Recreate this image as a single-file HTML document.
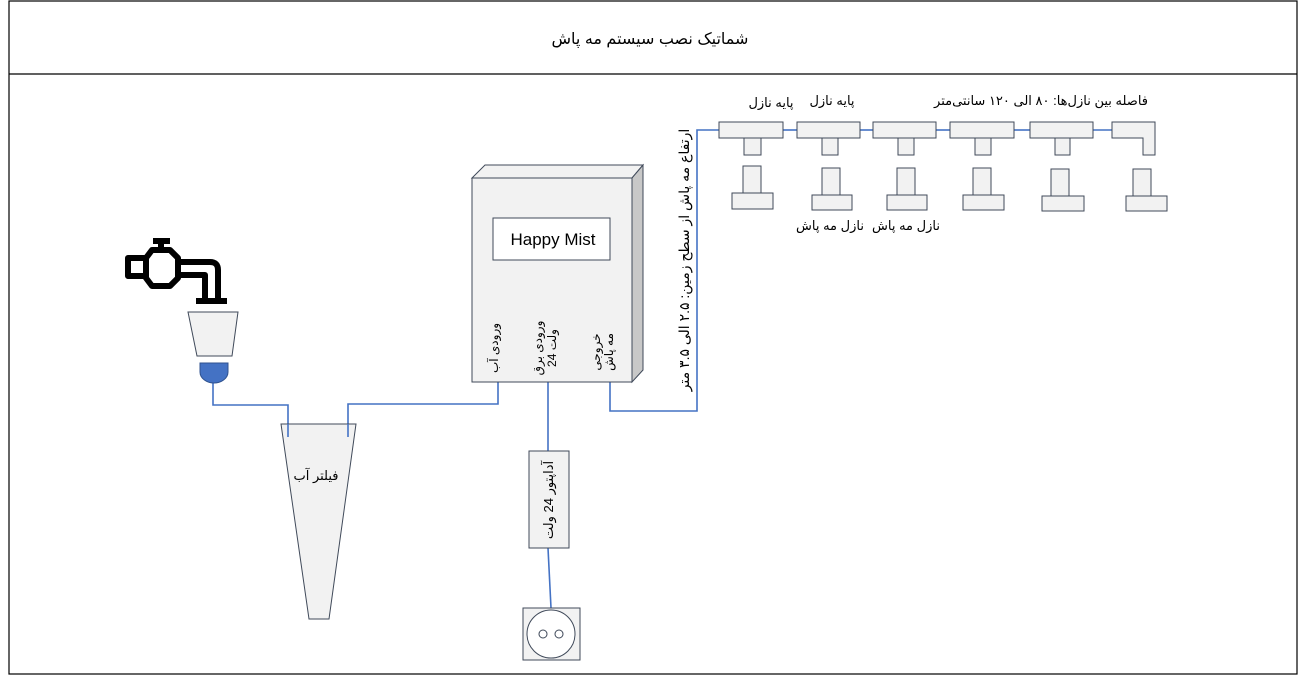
<!DOCTYPE html>
<html><head><meta charset="utf-8"><style>
html,body{margin:0;padding:0;background:#fff;width:1302px;height:677px;overflow:hidden}
text{font-family:"Liberation Sans","DejaVu Sans",sans-serif;fill:#000}
</style></head><body>
<svg width="1302" height="677" viewBox="0 0 1302 677" xmlns="http://www.w3.org/2000/svg">
<g stroke="#000" stroke-width="1.2" fill="none">
<rect x="9" y="1" width="1288" height="673"/>
<line x1="9" y1="74" x2="1297" y2="74"/>
</g>
<text x="650" y="44" font-size="16" text-anchor="middle" direction="rtl">شماتیک نصب سیستم مه پاش</text>

<g stroke="#4472c4" stroke-width="1.6" fill="none">
<polyline points="213,383 213,405 288,405 288,437"/>
<polyline points="498,382 498,404 348,404 348,437"/>
<polyline points="548,382 548,451"/>
<polyline points="548,548 551,608"/>
<polyline points="610,382 610,411 697,411 697,130 719,130"/>
<line x1="783" y1="130" x2="797" y2="130"/>
<line x1="860" y1="130" x2="873" y2="130"/>
<line x1="936" y1="130" x2="950" y2="130"/>
<line x1="1014" y1="130" x2="1030" y2="130"/>
<line x1="1093" y1="130" x2="1112" y2="130"/>
</g>

<g stroke="#404a5a" stroke-width="1" >
<polygon points="472,178 485,165 643,165 632,178" fill="#f2f2f2"/>
<polygon points="632,178 643,165 643,370 632,382" fill="#c8c8c8"/>
<rect x="472" y="178" width="160" height="204" fill="#f2f2f2"/>
<rect x="493" y="218" width="117" height="42" fill="#fff"/>
</g>
<text x="553" y="245" font-size="17" text-anchor="middle">Happy Mist</text>
<g font-size="12">
<text transform="translate(498,348) rotate(-90)" text-anchor="middle" direction="rtl">ورودی آب</text>
<text transform="translate(542,348) rotate(-90)" text-anchor="middle" direction="rtl">ورودی برق</text>
<text transform="translate(556,348) rotate(-90)" text-anchor="middle">24 ولت</text>
<text transform="translate(600,352) rotate(-90)" text-anchor="middle" direction="rtl">خروجی</text>
<text transform="translate(613,352) rotate(-90)" text-anchor="middle" direction="rtl">مه پاش</text>
</g>
<text transform="translate(689,260) rotate(-90)" font-size="14" text-anchor="middle" direction="rtl">ارتفاع مه پاش از سطح زمین: ۲.۵ الی ۳.۵ متر</text>

<polygon points="281,424 356,424 329,619 309,619" fill="#f2f2f2" stroke="#404a5a" stroke-width="1"/>
<g stroke="#4472c4" stroke-width="1.6"><line x1="288" y1="424" x2="288" y2="437"/><line x1="348" y1="424" x2="348" y2="437"/></g>
<text x="316" y="480" font-size="13" text-anchor="middle" direction="rtl">فیلتر آب</text>

<rect x="529" y="451" width="40" height="97" fill="#f2f2f2" stroke="#404a5a"/>
<text transform="translate(553,500) rotate(-90)" font-size="13" text-anchor="middle" direction="rtl">آداپتور 24 ولت</text>
<rect x="523" y="608" width="57" height="52" fill="#f2f2f2" stroke="#404a5a"/>
<circle cx="551" cy="634" r="24" fill="#fff" stroke="#404a5a"/>
<circle cx="543" cy="634" r="4" fill="#fff" stroke="#404a5a"/>
<circle cx="559" cy="634" r="4" fill="#fff" stroke="#404a5a"/>

<g stroke="#000" stroke-width="6" fill="none" stroke-linejoin="round">
<rect x="128" y="258" width="18" height="18"/>
<polygon points="152,250 170,250 178,258 178,278 170,286 152,286 146,278 146,258"/>
<line x1="161" y1="250" x2="161" y2="241"/>
<line x1="153" y1="241" x2="170" y2="241"/>
<path d="M178,262 H210 Q218,262 218,270 V301 M178,275 H205 V301"/>
<line x1="196" y1="301" x2="227" y2="301"/>
</g>
<polygon points="188,312 238,312 232,356 197,356" fill="#f2f2f2" stroke="#404a5a"/>
<path d="M200,363 H228 V372 A14,11 0 0 1 200,372 Z" fill="#4472c4" stroke="#2f528f"/>

<g fill="#f2f2f2" stroke="#404a5a" stroke-width="1">
<rect x="719" y="122" width="64" height="16"/><rect x="744" y="138" width="17" height="17"/>
<rect x="797" y="122" width="63" height="16"/><rect x="822" y="138" width="16" height="17"/>
<rect x="873" y="122" width="63" height="16"/><rect x="898" y="138" width="16" height="17"/>
<rect x="950" y="122" width="64" height="16"/><rect x="975" y="138" width="16" height="17"/>
<rect x="1030" y="122" width="63" height="16"/><rect x="1055" y="138" width="15" height="17"/>
<polygon points="1112,122 1155,122 1155,155 1143,155 1143,138 1112,138"/>
<rect x="743" y="166" width="18" height="27"/><rect x="732" y="193" width="41" height="16"/>
<rect x="822" y="168" width="18" height="27"/><rect x="812" y="195" width="40" height="15"/>
<rect x="897" y="168" width="18" height="27"/><rect x="887" y="195" width="40" height="15"/>
<rect x="973" y="168" width="18" height="27"/><rect x="963" y="195" width="41" height="15"/>
<rect x="1051" y="169" width="18" height="27"/><rect x="1042" y="196" width="42" height="15"/>
<rect x="1133" y="169" width="18" height="27"/><rect x="1126" y="196" width="41" height="15"/>
</g>
<g font-size="13">
<text x="771" y="107" text-anchor="middle" direction="rtl">پایه نازل</text>
<text x="832" y="105" text-anchor="middle" direction="rtl">پایه نازل</text>
<text x="1148" y="105" text-anchor="start" direction="rtl">فاصله بین نازل‌ها: ۸۰ الی ۱۲۰ سانتی‌متر</text>
<text x="830" y="230" text-anchor="middle" direction="rtl">نازل مه پاش</text>
<text x="906" y="230" text-anchor="middle" direction="rtl">نازل مه پاش</text>
</g>
</svg>
</body></html>
